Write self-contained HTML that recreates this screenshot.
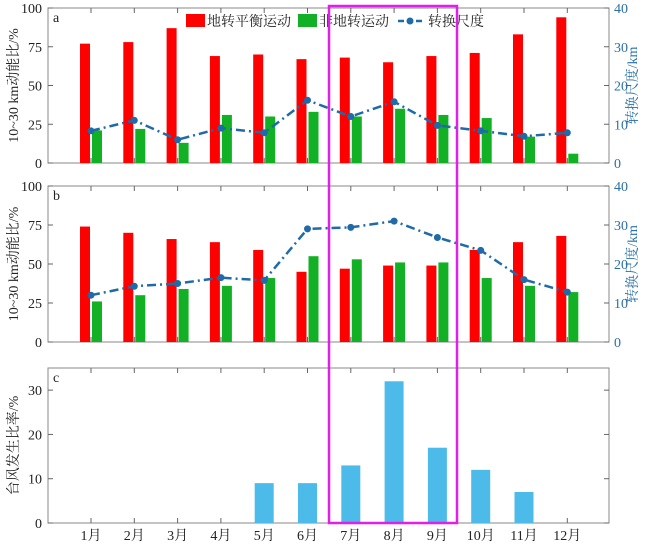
<!DOCTYPE html>
<html><head><meta charset="utf-8">
<style>
body{margin:0;background:#fff;}
svg{display:block;font-family:"Liberation Serif","Noto Serif CJK SC",serif;}
</style></head>
<body>
<svg id="chart" width="650" height="544" viewBox="0 0 650 544"></svg>
<script>
const months=["1月","2月","3月","4月","5月","6月","7月","8月","9月","10月","11月","12月"];
const geoA=[77,78,87,69,70,67,68,65,69,71,83,94];
const ageoA=[21,22,13,31,30,33,30,35,31,29,17,6];
const scaleA=[8.3,11,6,9,7.8,16.2,12,15.8,9.7,8.3,6.9,7.8];
const geoB=[74,70,66,64,59,45,47,49,49,59,64,68];
const ageoB=[26,30,34,36,41,55,53,51,51,41,36,32];
const scaleB=[12,14.3,15,16.5,15.8,29,29.4,31,26.8,23.5,16,12.8];
const typhoon=[0,0,0,0,9,9,13,32,17,12,7,0];
const leftTicks=[0,25,50,75,100];
const rightTicks=[0,10,20,30,40];
const cTicks=[0,10,20,30];

const NS="http://www.w3.org/2000/svg";
const svg=document.getElementById('chart');
const L=48,R=609;
const xm=i=>91+i*43.3;
function el(tag,attrs,parent){const e=document.createElementNS(NS,tag);for(const k in attrs)e.setAttribute(k,attrs[k]);(parent||svg).appendChild(e);return e;}
function txt(s,attrs,parent){const t=el('text',attrs,parent);t.textContent=s;return t;}

function panel(id,top,bot,lmax,rmax,red,green,line,letter){
  const g=el('g',{});
  
  
  const yl=v=>bot-(v/lmax)*(bot-top);
  const yr=v=>bot-(v/rmax)*(bot-top);
  // box
  const box=el('rect',{x:L,y:top,width:R-L,height:bot-top,fill:'none',stroke:'#888','stroke-width':1},g);
  
  
  // month ticks
  months.forEach((m,i)=>{el('line',{x1:xm(i),x2:xm(i),y1:top,y2:top+5,stroke:'#666'},g);el('line',{x1:xm(i),x2:xm(i),y1:bot,y2:bot-5,stroke:'#666'},g);});
  // left ticks
  const lt=red?leftTicks:cTicks;
  lt.forEach(v=>{
    el('line',{x1:L,x2:L+5,y1:yl(v),y2:yl(v),stroke:'#666'},g);
    const t=txt(String(v),{x:L-6,y:yl(v)+5,'text-anchor':'end','font-size':14,fill:'#222'},g);
    
    
  });
  if(red){
    rightTicks.forEach(v=>{
      el('line',{x1:R,x2:R-5,y1:yr(v),y2:yr(v),stroke:'#666'},g);
      const t=txt(String(v),{x:R+5,y:yr(v)+5,'font-size':14,fill:'#2a6fa8'},g);
      
      
    });
    red.forEach((v,i)=>{
      const b=el('rect',{x:xm(i)-11,y:yl(v),width:10,height:bot-yl(v),fill:'#ff0000'},g);
      
      
    });
    green.forEach((v,i)=>{
      const b=el('rect',{x:xm(i)+1,y:yl(v),width:10,height:bot-yl(v),fill:'#11b025'},g);
      
      
    });
    const pts=line.map((v,i)=>xm(i)+','+yr(v)).join(' ');
    const pl=el('polyline',{points:pts,fill:'none',stroke:'#1f6aa8','stroke-width':2.5,'stroke-dasharray':'9,4,2,4'},g);
    
    
    line.forEach((v,i)=>{
      const c=el('circle',{cx:xm(i),cy:yr(v),r:3.5,fill:'#1f6aa8'},g);
      
      
    });
    const yt=txt('10~30 km动能比/%',{x:0,y:0,'font-size':14,fill:'#222','text-anchor':'middle',transform:`translate(18,${(top+bot)/2}) rotate(-90)`},g);
    
    
    const rt=txt('转换尺度/km',{x:0,y:0,'font-size':14,fill:'#2a6fa8','text-anchor':'middle',transform:`translate(637,${(top+bot)/2}) rotate(-90)`},g);
    
    
  } else {
    line.forEach((v,i)=>{
      const b=el('rect',{x:xm(i)-9.5,y:yl(v),width:19,height:bot-yl(v),fill:'#4cbbe9'},g);
      
      
    });
    cTicks.forEach(v=>el('line',{x1:R,x2:R-5,y1:yl(v),y2:yl(v),stroke:'#666'},g));
    months.forEach((m,i)=>{
      const t=txt(m,{x:xm(i),y:540,'text-anchor':'middle','font-size':14,fill:'#222'},g);
      
      
    });
    const yt=txt('台风发生比率/%',{x:0,y:0,'font-size':14,fill:'#222','text-anchor':'middle',transform:`translate(18,${(top+bot)/2}) rotate(-90)`},g);
    
    
  }
  const lt2=txt(letter,{x:L+5,y:top+14,'font-size':14,fill:'#222'},g);
  
  
}
panel('a',8,163,100,40,geoA,ageoA,scaleA,'a');
panel('b',186,342,100,40,geoB,ageoB,scaleB,'b');
panel('c',368,523,35,null,null,null,typhoon,'c');

// legend
const lg=el('g',{});


el('rect',{x:186,y:14,width:19,height:13,fill:'#ff0000'},lg);
txt('地转平衡运动',{x:207,y:26,'font-size':14,fill:'#222'},lg);
el('rect',{x:298,y:14,width:19,height:13,fill:'#11b025'},lg);
txt('非地转运动',{x:319,y:26,'font-size':14,fill:'#222'},lg);
el('line',{x1:398,x2:422,y1:21,y2:21,stroke:'#1f6aa8','stroke-width':2.5,'stroke-dasharray':'6,3'},lg);
el('circle',{cx:410,cy:21,r:3.5,fill:'#1f6aa8'},lg);
txt('转换尺度',{x:428,y:26,'font-size':14,fill:'#222'},lg);

// highlight box
const hl=el('rect',{x:329,y:6,width:128,height:517,fill:'none',stroke:'#e020e8','stroke-width':2.5});


</script>
</body></html>
